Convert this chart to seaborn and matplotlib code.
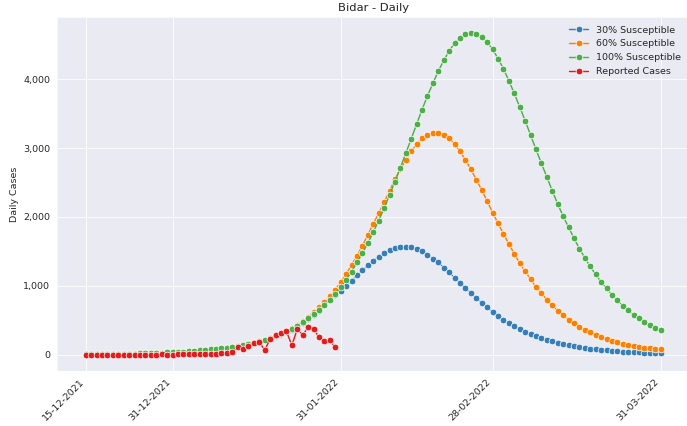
import pandas as pd
import matplotlib.pyplot as plt
import matplotlib.dates as mdates
import matplotlib.ticker as mticker
import seaborn as sns

sns.set_style("darkgrid")

# ---- data ----
start_date = "2021-12-15"
end_date = "2022-03-31"

sus_30 = [5, 6, 7, 8, 9, 10, 11, 12, 14, 15,
          17, 19, 22, 24, 27, 30, 34, 38, 42, 47,
          52, 58, 65, 72, 81, 90, 100, 112, 124, 138,
          154, 171, 190, 211, 235, 262, 292, 326, 364, 408,
          458, 515, 575, 640, 715, 795, 862, 930, 1000, 1075,
          1150, 1225, 1298, 1365, 1425, 1478, 1520, 1550, 1566, 1570,
          1560, 1532, 1500, 1452, 1396, 1338, 1265, 1193, 1116, 1043,
          966, 894, 821, 754, 686, 619, 561, 507, 459, 411,
          372, 333, 304, 271, 242, 217, 193, 174, 155, 137,
          121, 106, 97, 87, 77, 68, 62, 55, 49, 44,
          39, 35, 31, 28, 26, 23, 21]

sus_60 = [5, 6, 7, 8, 9, 10, 11, 12, 14, 15,
          17, 19, 22, 24, 27, 30, 34, 38, 42, 47,
          52, 58, 65, 72, 81, 90, 100, 112, 124, 138,
          154, 172, 192, 213, 238, 266, 298, 336, 380, 432,
          490, 552, 619, 686, 758, 845, 942, 1053, 1169, 1300,
          1435, 1580, 1739, 1899, 2053, 2215, 2377, 2546, 2696, 2826,
          2952, 3058, 3140, 3193, 3217, 3217, 3188, 3140, 3053, 2952,
          2826, 2691, 2541, 2391, 2230, 2063, 1908, 1754, 1609, 1464,
          1329, 1208, 1097, 981, 889, 797, 715, 638, 570, 507,
          454, 406, 362, 324, 290, 256, 227, 203, 179, 159,
          140, 126, 111, 101, 92, 82, 77]

sus_100 = [5, 6, 7, 8, 9, 10, 11, 13, 14, 16,
           18, 20, 22, 25, 28, 31, 35, 39, 43, 48,
           54, 60, 67, 75, 83, 93, 103, 115, 128, 142,
           158, 176, 196, 218, 243, 270, 300, 335, 372, 420,
           470, 530, 594, 652, 725, 800, 885, 980, 1085, 1205,
           1338, 1473, 1618, 1778, 1947, 2126, 2319, 2512, 2715, 2923,
           3135, 3348, 3560, 3758, 3942, 4116, 4275, 4410, 4526, 4604,
           4652, 4670, 4652, 4613, 4536, 4435, 4300, 4152, 3978, 3793,
           3597, 3400, 3188, 2981, 2778, 2580, 2379, 2188, 2014, 1850,
           1691, 1541, 1406, 1280, 1164, 1058, 961, 870, 787, 710,
           642, 580, 526, 478, 435, 391, 352]

reported = [0, 0, 0, 0, 0, 0, 0, 0, 0, 0,
            0, 1, 0, 1, 2, 0, 1, 2, 3, 2,
            5, 6, 10, 12, 15, 22, 27, 38, 106, 87,
            130, 164, 178, 68, 227, 285, 309, 338, 135, 372,
            280, 401, 377, 251, 193, 207, 106]

tick_dates = ["2021-12-15", "2021-12-31", "2022-01-31", "2022-02-28", "2022-03-31"]

# ---- plot ----
dates = pd.date_range(start_date, end_date, freq="D")
series = [
    ("30% Susceptible", sus_30),
    ("60% Susceptible", sus_60),
    ("100% Susceptible", sus_100),
    ("Reported Cases", reported),
]
colors = sns.color_palette("Set1")
colors = [colors[1], colors[4], colors[2], colors[0]]

fig = plt.figure(figsize=(10, 426 / 68.7), dpi=68.7)
ax = fig.add_axes([57 / 687, (426 - 370.7) / 426, (689.5 - 57) / 687, (370.7 - 17) / 426])

for (name, vals), c in zip(series, colors):
    sns.lineplot(x=dates[:len(vals)], y=vals, marker="o", markersize=7,
                 color=c, label=name, ax=ax)

ax.set_title("Bidar - Daily")
ax.set_ylabel("Daily Cases")
ax.set_xlabel("")
ax.yaxis.set_major_formatter(mticker.StrMethodFormatter("{x:,.0f}"))
ax.set_xticks(pd.to_datetime(tick_dates))
ax.xaxis.set_major_formatter(mdates.DateFormatter("%d-%m-%Y"))
plt.setp(ax.get_xticklabels(), rotation=45, ha="right")
ax.legend(loc="upper right", frameon=False)

fig.savefig("out.png", dpi=68.7)
